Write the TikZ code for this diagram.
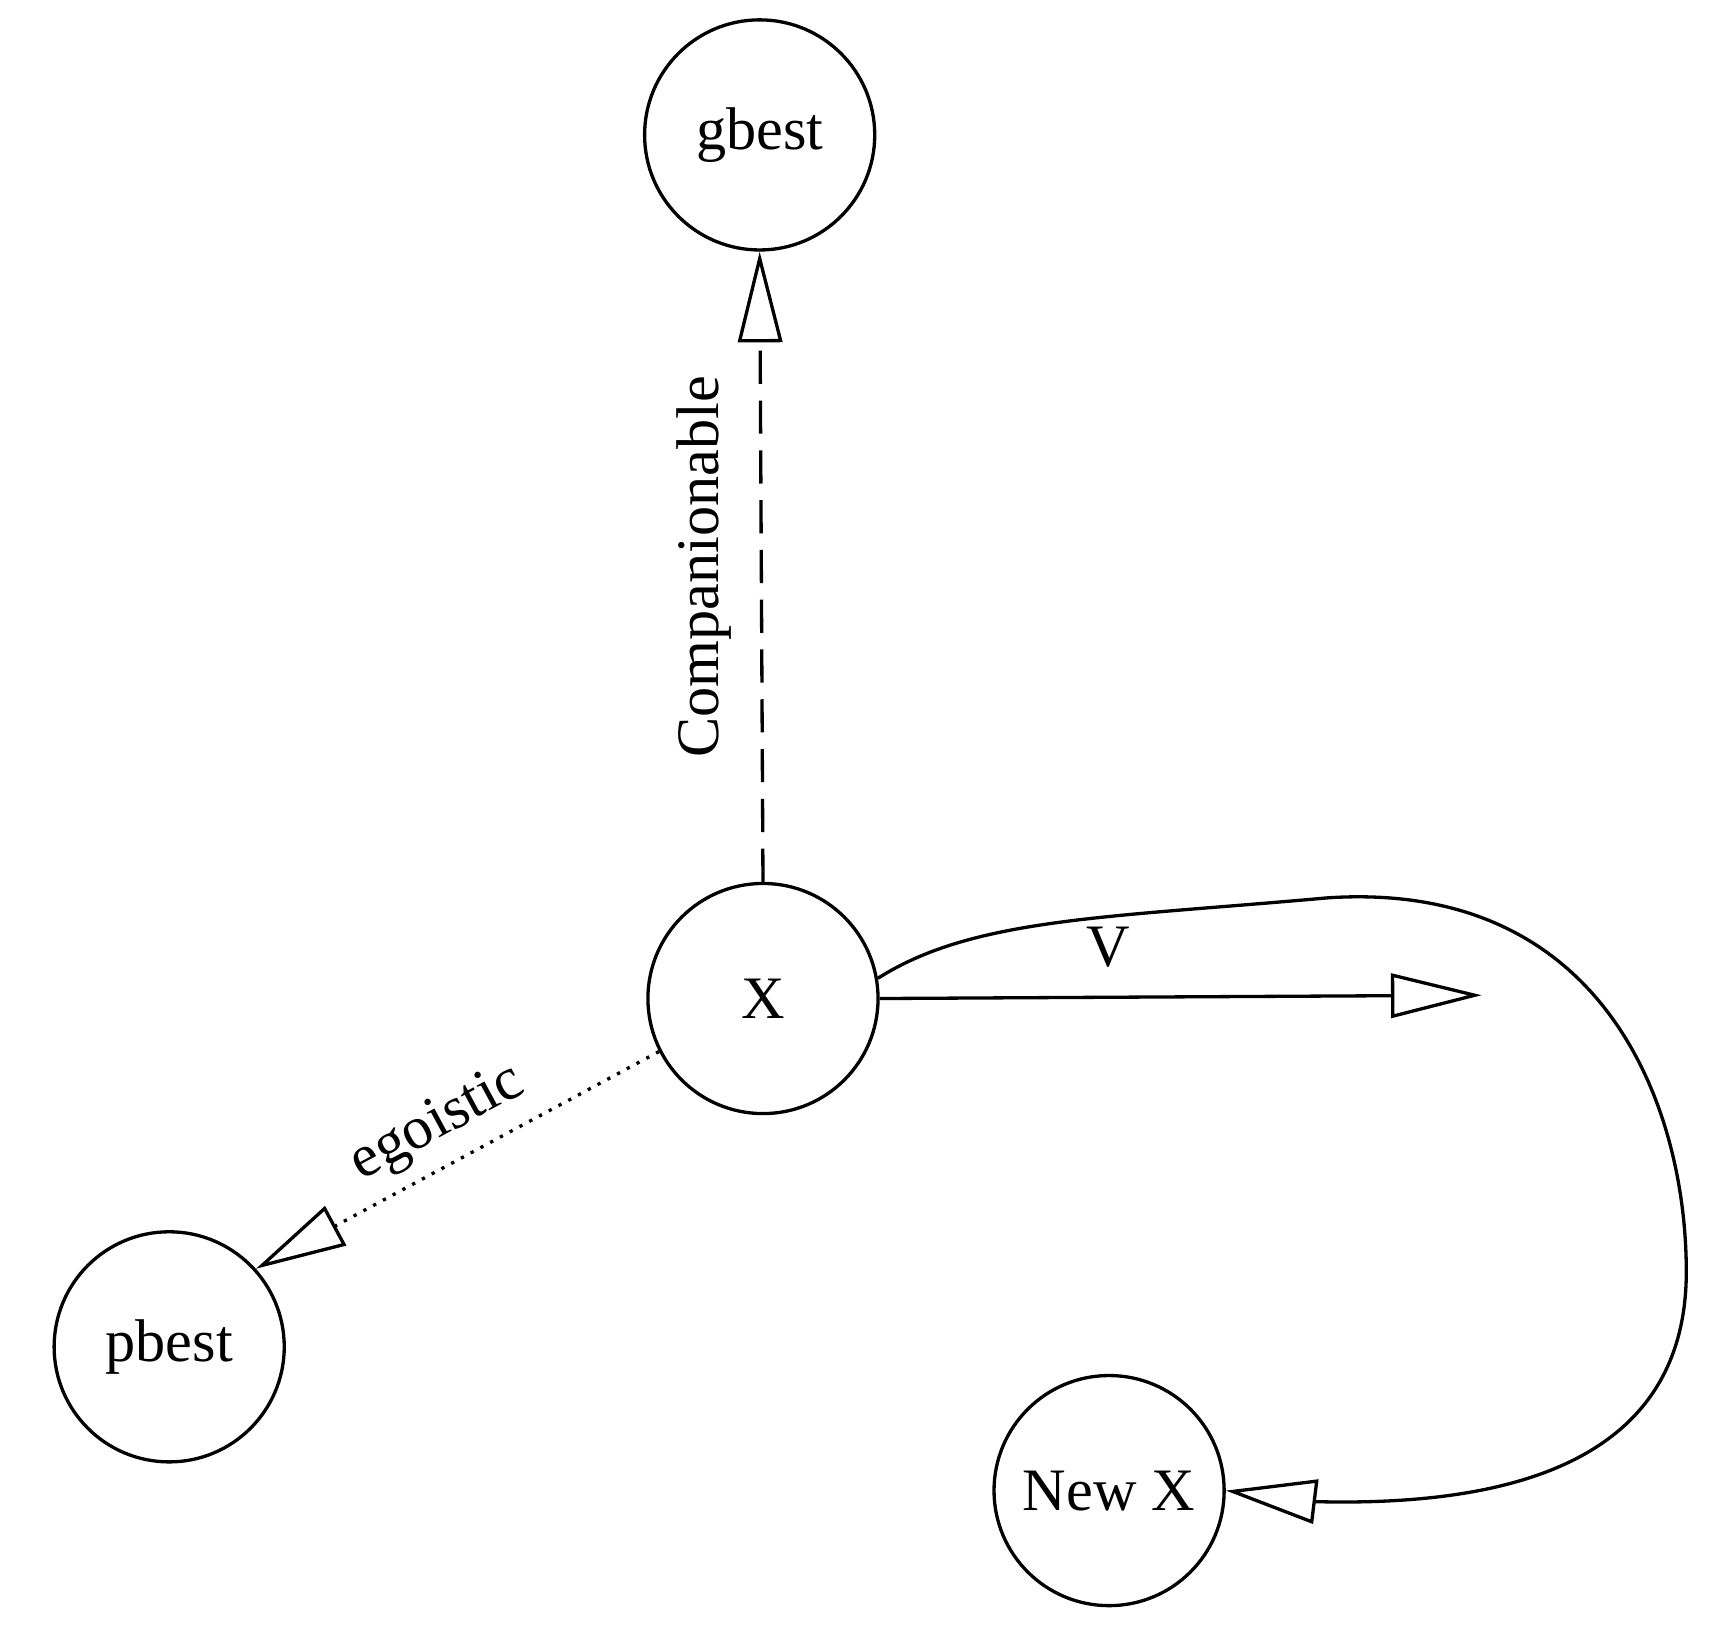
\documentclass[tikz,border=0pt]{standalone}
\usepackage{fontspec}
\setmainfont{Liberation Serif}
\usetikzlibrary{arrows.meta}
\begin{document}
\begin{tikzpicture}[x=0.01cm,y=-0.01cm,line width=0.85pt,
  st/.style={circle,draw,minimum size=2.08cm,inner sep=0pt,font=\fontsize{15.5}{18}\selectfont},
  tip/.style={-{Triangle[open,length=0.82cm,width=0.4cm]}},
  lab/.style={font=\fontsize{15.5}{18}\selectfont}]
\useasboundingbox (0,0) rectangle (1560,1478);
\node[st] (g) at (687,122) {gbest};
\node[st] (x) at (690,903) {X};
\node[st] (p) at (153,1218) {pbest};
\node[st] (n) at (1003,1348) {New X};
\coordinate (vend) at (1340,900);
\draw[tip,dash pattern=on 0.3cm off 0.15cm] (x.north) -- (g.south)
  node[lab,midway,rotate=90,above=4pt] {Companionable};
\draw[tip,dotted] (x.207) -- (p.42)
  node[lab,pos=0.5,sloped,above=0pt] {egoistic};
\draw[tip] (x.east) -- (vend) node[lab,pos=0.38,above=4pt] {V};
\draw[tip] (x.10) .. controls (880,830) and (1000,830) .. (1200,812)
  .. controls (1450,795) and (1525,1000) .. (1525,1150)
  .. controls (1525,1330) and (1350,1362) .. (1190,1358) -- (n.east);
\end{tikzpicture}
\end{document}
